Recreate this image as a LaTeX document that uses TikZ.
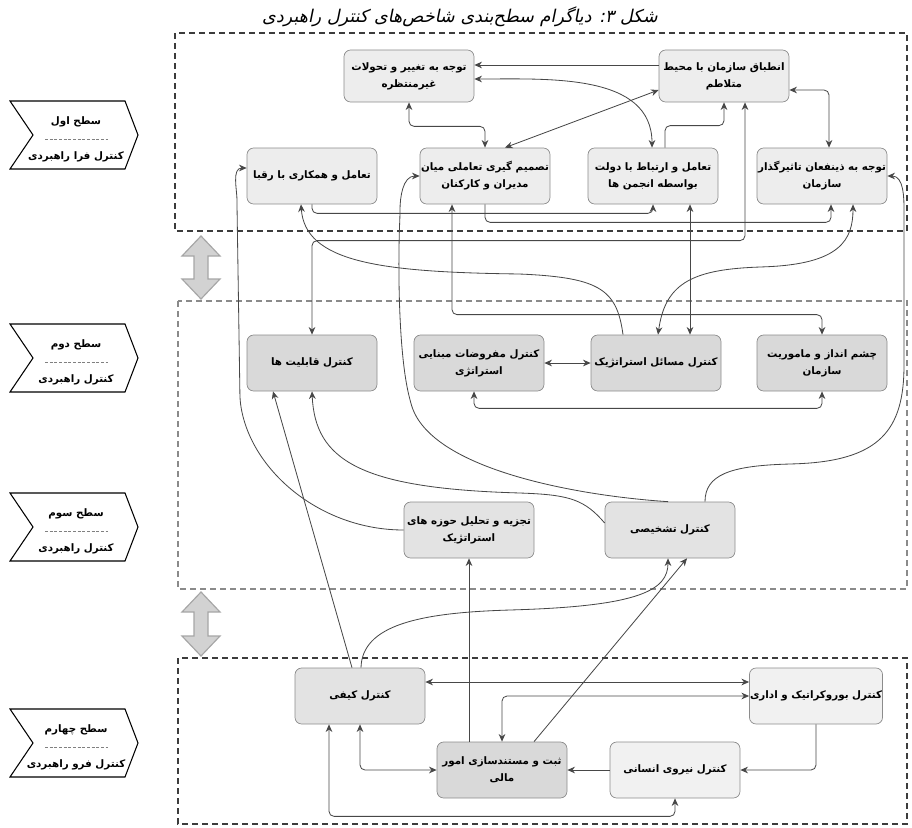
\documentclass[tikz,border=0pt]{standalone}
\usepackage{fontspec}
\usetikzlibrary{arrows.meta,calc}

\newfontfamily\farsi[Script=Arabic]{DejaVu Sans}
\newfontfamily\farsislant[Script=Arabic,FakeSlant=0.2]{DejaVu Sans}
\TeXXeTstate=1
\newcommand{\fa}[1]{\beginR #1\endR}

\definecolor{boxline}{HTML}{8C8C8C}
\definecolor{linegray}{HTML}{474747}
\definecolor{fillone}{HTML}{EDEDED}
\definecolor{filltwo}{HTML}{D9D9D9}
\definecolor{fillthree}{HTML}{E3E3E3}
\definecolor{fillfour}{HTML}{F1F1F1}
\definecolor{darkdash}{HTML}{3C3C3C}
\definecolor{lightdash}{HTML}{8A8A8A}

\begin{document}
\begin{tikzpicture}[x=0.3mm, y=-0.3mm,
    >={Stealth[length=2.3mm,width=2mm]},
    ibox/.style={draw=boxline, line width=0.6pt, rounded corners=2mm,
        minimum width=39mm, minimum height=16.8mm, align=center, inner sep=0.5pt,
        font=\farsi\bfseries\fontsize{8.8}{14.5}\selectfont},
    link/.style={draw=linegray, line width=0.7pt, rounded corners=1.5mm},
    levdark/.style={draw=darkdash, line width=1.2pt, dash pattern=on 1.8mm off 1.2mm},
    levlight/.style={draw=lightdash, line width=1.2pt, dash pattern=on 1.8mm off 1.2mm},
    chev/.style={draw=black, line width=0.9pt, fill=white},
    levtxt/.style={font=\farsi\bfseries\fontsize{8.8}{10}\selectfont, inner sep=0pt},
    sep/.style={draw=gray, line width=0.5pt, dash pattern=on 0.9mm off 0.5mm},
    updown/.style={draw=gray!70, fill=gray!35, line width=1pt}]

    \useasboundingbox (0,0) rectangle (912,827);

    % --- Title ---
    \node[font=\farsislant\fontsize{15}{17}\selectfont] (title) at (460,17)
        {\fa{شکل ۳: دیاگرام سطح‌بندی شاخص‌های کنترل راهبردی}};

    % --- Level frames ---
    \draw[levdark] (175,33) rectangle (907,231);
    \draw[levlight] (178,301) rectangle (907,589);
    \draw[levdark] (178,658) rectangle (907,824);

    % hollow double arrows between the frames
    \foreach \ya/\yb in {236/299, 592/656}
        \draw[updown] (201,\ya) -- (220,\ya+20) -- (208,\ya+20) -- (208,\yb-20) -- (220,\yb-20)
            -- (201,\yb) -- (182,\yb-20) -- (194,\yb-20) -- (194,\ya+20) -- (182,\ya+20) -- cycle;

    % --- Level tags on the left ---
    \foreach \c/\n/\ta/\tb in {135/1/سطح اول/کنترل فرا راهبردی,
                              358/2/سطح دوم/کنترل راهبردی,
                              527/3/سطح سوم/کنترل راهبردی,
                              743/4/سطح چهارم/کنترل فرو راهبردی}{
        \draw[chev] (10,\c-34) -- (125,\c-34) -- (138,\c) -- (125,\c+34) -- (10,\c+34) -- (33,\c) -- cycle;
        \node[levtxt] (levtop\n) at (76,\c-13) {\fa{\ta}};
        \draw[sep] (45,\c+4) -- (108,\c+4);
        \node[levtxt] (levbot\n) at (76,\c+22) {\fa{\tb}};
    }

    % --- Level 1 boxes ---
    \node[ibox, fill=fillone, minimum height=15.6mm] (change) at (409,76) {\fa{توجه به تغییر و تحولات}\\\fa{غیرمنتظره}};
    \node[ibox, fill=fillone, minimum height=15.6mm] (adapt) at (724,76) {\fa{انطباق سازمان با محیط}\\\fa{متلاطم}};
    \node[ibox, fill=fillone] (rivals) at (312,176) {\fa{تعامل و همکاری با رقبا}};
    \node[ibox, fill=fillone] (decide) at (485,176) {\fa{تصمیم گیری تعاملی میان}\\\fa{مدیران و کارکنان}};
    \node[ibox, fill=fillone] (govern) at (653,176) {\fa{تعامل و ارتباط با دولت}\\\fa{بواسطه انجمن ها}};
    \node[ibox, fill=fillone] (stake) at (822,176) {\fa{توجه به ذینفعان تاثیرگذار}\\\fa{سازمان}};

    % --- Level 2 boxes ---
    \node[ibox, fill=filltwo] (capab) at (312,363) {\fa{کنترل قابلیت ها}};
    \node[ibox, fill=filltwo] (assume) at (479,363) {\fa{کنترل مفروضات مبنایی}\\\fa{استراتژی}};
    \node[ibox, fill=filltwo] (issues) at (656,363) {\fa{کنترل مسائل استراتژیک}};
    \node[ibox, fill=filltwo] (vision) at (822,363) {\fa{چشم انداز و ماموریت}\\\fa{سازمان}};

    % --- Level 3 boxes ---
    \node[ibox, fill=fillthree] (analyz) at (469,530) {\fa{تجزیه و تحلیل حوزه های}\\\fa{استراتژیک}};
    \node[ibox, fill=fillthree] (diagn) at (670,530) {\fa{کنترل تشخیصی}};

    % --- Level 4 boxes ---
    \node[ibox, fill=fillthree] (quality) at (360,696) {\fa{کنترل کیفی}};
    \node[ibox, fill=fillfour] (bureau) at (816,696) {\fa{کنترل بوروکراتیک و اداری}};
    \node[ibox, fill=filltwo] (finance) at (502,770) {\fa{ثبت و مستندسازی امور}\\\fa{مالی}};
    \node[ibox, fill=fillfour] (human) at (675,770) {\fa{کنترل نیروی انسانی}};

    % --- Links inside level 1 ---
    \draw[link,->] ($(adapt.west)+(0,-11)$) -- ($(change.east)+(0,-11)$);
    \draw[link,<->] ($(change.east)+(0,3)$) to[out=0,in=90] ($(govern.north)+(-1,0)$);
    \draw[link,<->] ($(decide.north)+(20,0)$) -- ($(adapt.west)+(0,14)$);
    \draw[link,<->] (change.south) -- ++(0,24) -| (decide.north);
    \draw[link,->] ($(govern.north)+(12,0)$) -- ++(0,-22) -| (adapt.south);
    \draw[link,<->] ($(adapt.east)+(0,14)$) -| ($(stake.north)+(7,0)$);
    \draw[link,->] (rivals.south) -- ++(0,9) -| (govern.south);
    \draw[link,->] (decide.south) -- ++(0,18) -| ($(stake.south)+(9,0)$);

    % --- Links between level 1 and level 2 ---
    \draw[link,<->] (capab.north) -- ++(0,-94) -| ($(adapt.south)+(21,0)$);
    \draw[link,->] ($(issues.north)+(-33,0)$) .. controls (617,290) and (600,278) .. (520,274)
        .. controls (380,272) and (305,262) .. ($(rivals.south)+(-11,0)$);
    \draw[link,<->] ($(issues.north)+(2,0)$) .. controls (665,285) and (690,270) .. (760,267)
        .. controls (840,264) and (853,240) .. ($(stake.south)+(31,0)$);
    \draw[link,<->] ($(issues.north)+(34,0)$) -- ($(govern.south)+(37,0)$);
    \draw[link,<->] ($(decide.south)+(-33,0)$) |- ($(vision.north)+(0,-20)$) -- (vision.north);

    % --- Links inside level 2 ---
    \draw[link,<->] (assume.east) -- (issues.west);
    \draw[link,<->] ($(assume.south)+(-5,0)$) -- ++(0,17) -| (vision.south);

    % --- Links from level 3 upwards ---
    \draw[link,->] ($(diagn.north)+(-2,0)$) .. controls (580,496) and (430,470) .. (410,400)
        .. controls (398,350) and (398,260) .. (400,215) to[out=90,in=180] (decide.west);
    \draw[link,->] (analyz.west) .. controls (320,530) and (250,470) .. (240,400)
        -- (237,205) to[out=90,in=180] ($(rivals.west)+(0,-8)$);
    \draw[link,->] ($(diagn.west)+(0,-7)$) .. controls (585,500) and (570,495) .. (520,493)
        .. controls (360,488) and (315,460) .. (capab.south);
    \draw[link,->] ($(diagn.north)+(35,0)$) .. controls (705,475) and (730,466) .. (790,464)
        .. controls (880,461) and (904,430) .. (904,360) -- (904,215) to[out=90,in=0] (stake.east);

    % --- Links from level 4 upwards ---
    \draw[link,->] ($(quality.north)+(-8,0)$) -- ($(capab.south)+(-39,0)$);
    \draw[link,->] ($(quality.north)+(1,0)$) .. controls (362,625) and (420,613) .. (510,610)
        .. controls (640,606) and (668,590) .. ($(diagn.south)+(-2,0)$);
    \draw[link,->] ($(finance.north)+(32,0)$) -- ($(diagn.south)+(17,0)$);
    \draw[link,->] ($(finance.north)+(-33,0)$) -- (analyz.south);

    % --- Links inside level 4 ---
    \draw[link,<->] ($(quality.east)+(0,-14)$) -- ($(bureau.west)+(0,-14)$);
    \draw[link,<->] (bureau.west) -| (finance.north);
    \draw[link,->] (bureau.south) |- (human.east);
    \draw[link,->] (human.west) -- (finance.east);
    \draw[link,<->] (quality.south) |- (finance.west);
    \draw[link,<->] ($(quality.south)+(-31,0)$) -- ++(0,92) -| (human.south);

\end{tikzpicture}
\end{document}
